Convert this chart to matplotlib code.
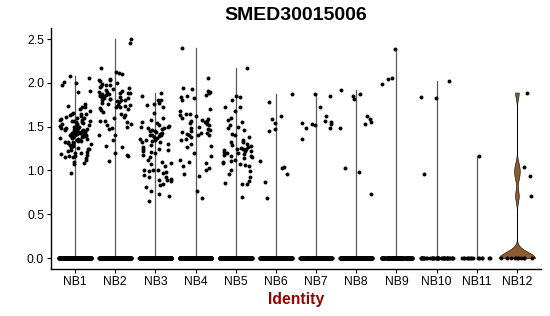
import numpy as np
import matplotlib
matplotlib.use("Agg")
import matplotlib.pyplot as plt

plt.rcParams['font.family'] = ['Liberation Sans', 'DejaVu Sans']

# groups on the x axis
groups = ["NB1", "NB2", "NB3", "NB4", "NB5", "NB6", "NB7", "NB8", "NB9", "NB10", "NB11", "NB12"]

# number of cells with zero expression in each group
zero_counts = [400, 350, 380, 360, 330, 200, 200, 180, 120, 40, 15, 10]

# non-zero expression values
nb1 = [2.08, 2.05, 2.01, 2.00, 1.97, 1.91, 1.90,
       1.76, 1.74, 1.73, 1.72, 1.70, 1.68, 1.66, 1.65, 1.64, 1.64, 1.63, 1.62, 1.61,
       1.60, 1.60, 1.59, 1.58, 1.58, 1.57, 1.56, 1.56, 1.55, 1.55, 1.54, 1.53, 1.53,
       1.52, 1.52, 1.51, 1.50, 1.50, 1.49, 1.49, 1.48, 1.48, 1.47, 1.47, 1.46, 1.46,
       1.46, 1.45, 1.45, 1.45, 1.44, 1.44, 1.44, 1.43, 1.43, 1.43, 1.42, 1.42, 1.42,
       1.41, 1.41, 1.41, 1.40, 1.40, 1.40, 1.39, 1.39, 1.39, 1.38, 1.38, 1.37, 1.37,
       1.36, 1.36, 1.35, 1.35, 1.34, 1.34, 1.33, 1.33, 1.32, 1.31, 1.30, 1.30, 1.29,
       1.28, 1.27, 1.26, 1.25, 1.24, 1.23, 1.22, 1.21, 1.20, 1.20, 1.19, 1.18, 1.17,
       1.16, 1.15, 1.15, 1.14, 1.12, 1.10, 1.08, 1.07, 0.97]
nb2 = [2.50, 2.46, 2.17, 2.12, 2.11, 2.10, 2.04, 2.03, 2.03, 2.02, 2.00, 1.99, 1.98,
       1.97, 1.96, 1.95, 1.94, 1.93, 1.92, 1.91, 1.90, 1.90, 1.89, 1.88, 1.88, 1.87,
       1.87, 1.86, 1.86, 1.85, 1.85, 1.84, 1.84, 1.83, 1.83, 1.82, 1.82, 1.81, 1.80,
       1.80, 1.79, 1.78, 1.77, 1.76, 1.75, 1.75, 1.74, 1.73, 1.72, 1.71, 1.70, 1.69,
       1.67, 1.65, 1.63, 1.61, 1.60, 1.57, 1.56, 1.55, 1.53, 1.52, 1.50, 1.48, 1.47,
       1.41, 1.40, 1.35, 1.28, 1.27, 1.20, 1.18, 1.17, 1.11]
nb3 = [1.89, 1.85, 1.81, 1.80, 1.77, 1.76, 1.75, 1.73, 1.66, 1.60, 1.58, 1.55, 1.54,
       1.52, 1.51, 1.50, 1.50, 1.49, 1.48, 1.47, 1.46, 1.45, 1.45, 1.44, 1.43, 1.42,
       1.42, 1.41, 1.40, 1.40, 1.39, 1.38, 1.37, 1.36, 1.35, 1.35, 1.34, 1.33, 1.32,
       1.30, 1.29, 1.27, 1.25, 1.24, 1.23, 1.22, 1.21, 1.20, 1.18, 1.15, 1.12, 1.10,
       1.08, 1.07, 1.05, 1.01, 1.00, 1.00, 0.99, 0.98, 0.97, 0.95, 0.93, 0.92, 0.90,
       0.89, 0.89, 0.88, 0.85, 0.83, 0.81, 0.76, 0.73, 0.71, 0.65]
nb4 = [2.40, 2.06, 1.94, 1.93, 1.91, 1.90, 1.88, 1.86, 1.85, 1.84, 1.83, 1.80,
       1.70, 1.68, 1.65, 1.64, 1.63, 1.62, 1.60, 1.59, 1.58, 1.57, 1.56, 1.55, 1.54,
       1.53, 1.52, 1.50, 1.48, 1.47, 1.46, 1.45, 1.44, 1.43, 1.43, 1.42, 1.41, 1.40,
       1.40, 1.38, 1.36, 1.35, 1.30, 1.28, 1.27, 1.20, 1.16, 1.12, 1.10, 1.08, 1.05,
       1.03, 1.00, 0.96, 0.94, 0.77, 0.69]
nb5 = [2.17, 1.85, 1.84, 1.80, 1.73, 1.72, 1.68, 1.60, 1.58, 1.55, 1.52, 1.50, 1.48,
       1.46, 1.42, 1.40, 1.38, 1.35, 1.33, 1.32, 1.30, 1.29, 1.28, 1.27, 1.26, 1.25,
       1.25, 1.24, 1.23, 1.22, 1.22, 1.21, 1.20, 1.20, 1.19, 1.18, 1.17, 1.16, 1.15,
       1.14, 1.12, 1.11, 1.10, 1.09, 1.07, 1.06, 1.05, 1.00, 0.99, 0.96, 0.92, 0.88,
       0.86, 0.85, 0.84, 0.70]
nb6 = [1.87, 1.78, 1.62, 1.59, 1.54, 1.47, 1.45, 1.11, 1.04, 1.03, 0.96, 0.87, 0.69]
nb7 = [1.87, 1.85, 1.73, 1.62, 1.56, 1.55, 1.54, 1.53, 1.53, 1.52, 1.49, 1.48, 1.36]
nb8 = [1.92, 1.87, 1.85, 1.82, 1.62, 1.59, 1.55, 1.53, 1.48, 1.03, 0.98, 0.73]
nb9 = [2.39, 2.06, 2.04, 1.99]
nb10 = [2.02, 1.84, 1.83, 0.96]
nb11 = [1.16]
nb12 = [1.89, 1.04, 0.94, 0.71]

nonzero = [nb1, nb2, nb3, nb4, nb5, nb6, nb7, nb8, nb9, nb10, nb11, nb12]

nb12_fill = "#8E5B2C"

fig = plt.figure(figsize=(5.5, 3.16), dpi=100)
ax = fig.add_axes([0.0927, 0.1487, 0.891, 0.7623])

rng = np.random.default_rng(7)  # jitter only

for i, g in enumerate(groups):
    pos = i + 1
    vals = np.array([0.0] * zero_counts[i] + nonzero[i])
    if g == "NB12":
        # smooth violin (few cells)
        bw = 0.07
        grid = np.linspace(vals.min(), vals.max(), 512)
        dens = np.exp(-0.5 * ((grid[:, None] - vals[None, :]) / bw) ** 2).sum(axis=1)
        half = 0.45 * dens / dens.max()
        ax.fill_betweenx(grid, pos - half, pos + half, facecolor=nb12_fill,
                         edgecolor="black", linewidth=0.4, zorder=2)
    else:
        # zero-inflated groups collapse to a thin line
        ax.plot([pos, pos], [0, vals.max()], color="#5a5a5a", linewidth=0.9, zorder=2)
    xj = pos + rng.uniform(-0.4, 0.4, len(vals))
    ax.scatter(xj, vals, s=8, color="black", linewidths=0, zorder=3)

ax.set_xlim(0.4, 12.6)
ax.set_ylim(-0.125, 2.625)
ax.set_xticks(range(1, 13))
ax.set_xticklabels(groups)
ax.set_yticks([0, 0.5, 1.0, 1.5, 2.0, 2.5])
ax.set_yticklabels(["0.0", "0.5", "1.0", "1.5", "2.0", "2.5"])
ax.tick_params(labelsize=8.7, length=3, width=0.8, colors="black", pad=2)
for s in ["top", "right"]:
    ax.spines[s].set_visible(False)
for s in ["left", "bottom"]:
    ax.spines[s].set_linewidth(1.0)

ax.set_title("SMED30015006", fontsize=14, fontweight="bold", pad=6)
ax.set_xlabel("Identity", fontsize=11.3, fontweight="bold", color="#9B0000", labelpad=3)

fig.savefig("out.png", dpi=100)
